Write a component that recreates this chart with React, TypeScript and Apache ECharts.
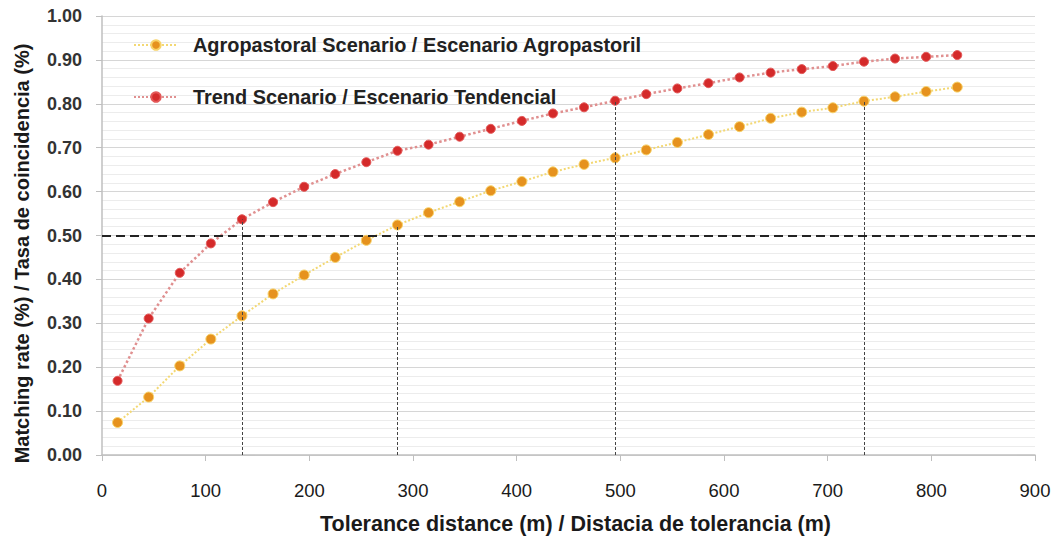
import React, { useEffect, useRef } from "react";
import * as echarts from "echarts";

const distances = [15, 45, 75, 105, 135, 165, 195, 225, 255, 285, 315, 345, 375, 405, 435, 465, 495, 525, 555, 585, 615, 645, 675, 705, 735, 765, 795, 825];
const agropastoral = [0.074, 0.132, 0.203, 0.264, 0.317, 0.367, 0.41, 0.45, 0.489, 0.524, 0.552, 0.577, 0.602, 0.623, 0.645, 0.662, 0.677, 0.695, 0.712, 0.73, 0.748, 0.767, 0.781, 0.791, 0.806, 0.816, 0.828, 0.838];
const trend = [0.169, 0.311, 0.415, 0.482, 0.537, 0.576, 0.611, 0.64, 0.667, 0.693, 0.707, 0.725, 0.743, 0.761, 0.778, 0.792, 0.807, 0.822, 0.835, 0.847, 0.86, 0.871, 0.879, 0.886, 0.896, 0.903, 0.907, 0.911];
const seriesNames = ["Agropastoral Scenario / Escenario Agropastoril", "Trend Scenario / Escenario Tendencial"];
// indices of points where a guide drops to the x axis
const agroGuides = [9, 24];
const trendGuides = [4, 16];
const threshold = 0.5;

const sans = '"Liberation Sans", Arial, sans-serif';

function guideLines(values: number[], idx: number[]) {
  return idx.map((i) => [
    { coord: [distances[i], 0] },
    { coord: [distances[i], values[i]] },
  ]);
}

export default function App() {
  const ref = useRef<HTMLDivElement>(null);
  useEffect(() => {
    if (!ref.current) return;
    const chart = echarts.init(ref.current, undefined, { renderer: "svg" });
    chart.setOption({
      animation: false,
      backgroundColor: "#ffffff",
      grid: { left: 102, right: 22, top: 16, bottom: 87 },
      legend: {
        left: 128,
        top: 29,
        orient: "vertical",
        itemGap: 30,
        itemWidth: 44,
        itemHeight: 12,
        textStyle: { fontFamily: sans, fontWeight: "bold", fontSize: 19.9, color: "#222", lineHeight: 22, padding: [0, 0, 0, 10] },
        data: seriesNames,
      },
      xAxis: {
        type: "value",
        min: 0,
        max: 900,
        interval: 100,
        name: "Tolerance distance (m) / Distacia de tolerancia (m)",
        nameLocation: "middle",
        nameGap: 58,
        nameTextStyle: { fontFamily: sans, fontWeight: "bold", fontSize: 21.5, color: "#1a1a1a", padding: [0, 0, 0, 14] },
        axisLine: { lineStyle: { color: "#bfbfbf", width: 1.5 } },
        axisTick: { show: true, length: 6, lineStyle: { color: "#bfbfbf" } },
        axisLabel: { margin: 26, fontFamily: sans, fontSize: 18.5, color: "#1a1a1a" },
        splitLine: { show: false },
      },
      yAxis: {
        type: "value",
        min: 0,
        max: 1,
        interval: 0.1,
        name: "Matching rate (%) / Tasa de coincidencia (%)",
        nameLocation: "middle",
        nameGap: 70,
        nameTextStyle: { fontFamily: sans, fontWeight: "bold", fontSize: 20, color: "#1a1a1a", padding: [0, 36, 0, 0] },
        axisLine: { show: true, lineStyle: { color: "#bfbfbf", width: 1.5 } },
        axisTick: { show: true, length: 6, lineStyle: { color: "#bfbfbf" } },
        axisLabel: { margin: 20, fontFamily: sans, fontWeight: "bold", fontSize: 18, color: "#333", formatter: (v: number) => v.toFixed(2) },
        splitLine: { show: true, lineStyle: { color: "#d6d6d6", width: 1 } },
        minorTick: { show: false, splitNumber: 5 },
        minorSplitLine: { show: true, lineStyle: { color: "#ececec", width: 1 } },
      },
      series: [
        {
          name: seriesNames[0],
          type: "line",
          data: distances.map((d, i) => [d, agropastoral[i]]),
          symbol: "circle",
          symbolSize: 10,
          itemStyle: { color: "#e6921e", borderColor: "#f8d36a", borderWidth: 1 },
          lineStyle: { color: "#f3d873", type: "dotted", width: 2 },
          z: 3,
          markLine: {
            silent: true,
            symbol: "none",
            label: { show: false },
            data: [
              ...guideLines(agropastoral, agroGuides),
              { yAxis: threshold, lineStyle: { color: "#222", width: 2, type: [9, 5] } },
            ],
            lineStyle: { color: "#444", width: 1, type: [3, 2] },
          },
        },
        {
          name: seriesNames[1],
          type: "line",
          data: distances.map((d, i) => [d, trend[i]]),
          symbol: "circle",
          symbolSize: 9,
          itemStyle: { color: "#d42a2a", borderColor: "#e45858", borderWidth: 1 },
          lineStyle: { color: "#e09090", type: "dotted", width: 2.5 },
          z: 3,
          markLine: {
            silent: true,
            symbol: "none",
            label: { show: false },
            data: guideLines(trend, trendGuides),
            lineStyle: { color: "#444", width: 1, type: [3, 2] },
          },
        },
      ],
    });
    return () => chart.dispose();
  }, []);
  return <div ref={ref} style={{ position: "fixed", left: 0, top: 0, width: 1057, height: 542 }} />;
}
